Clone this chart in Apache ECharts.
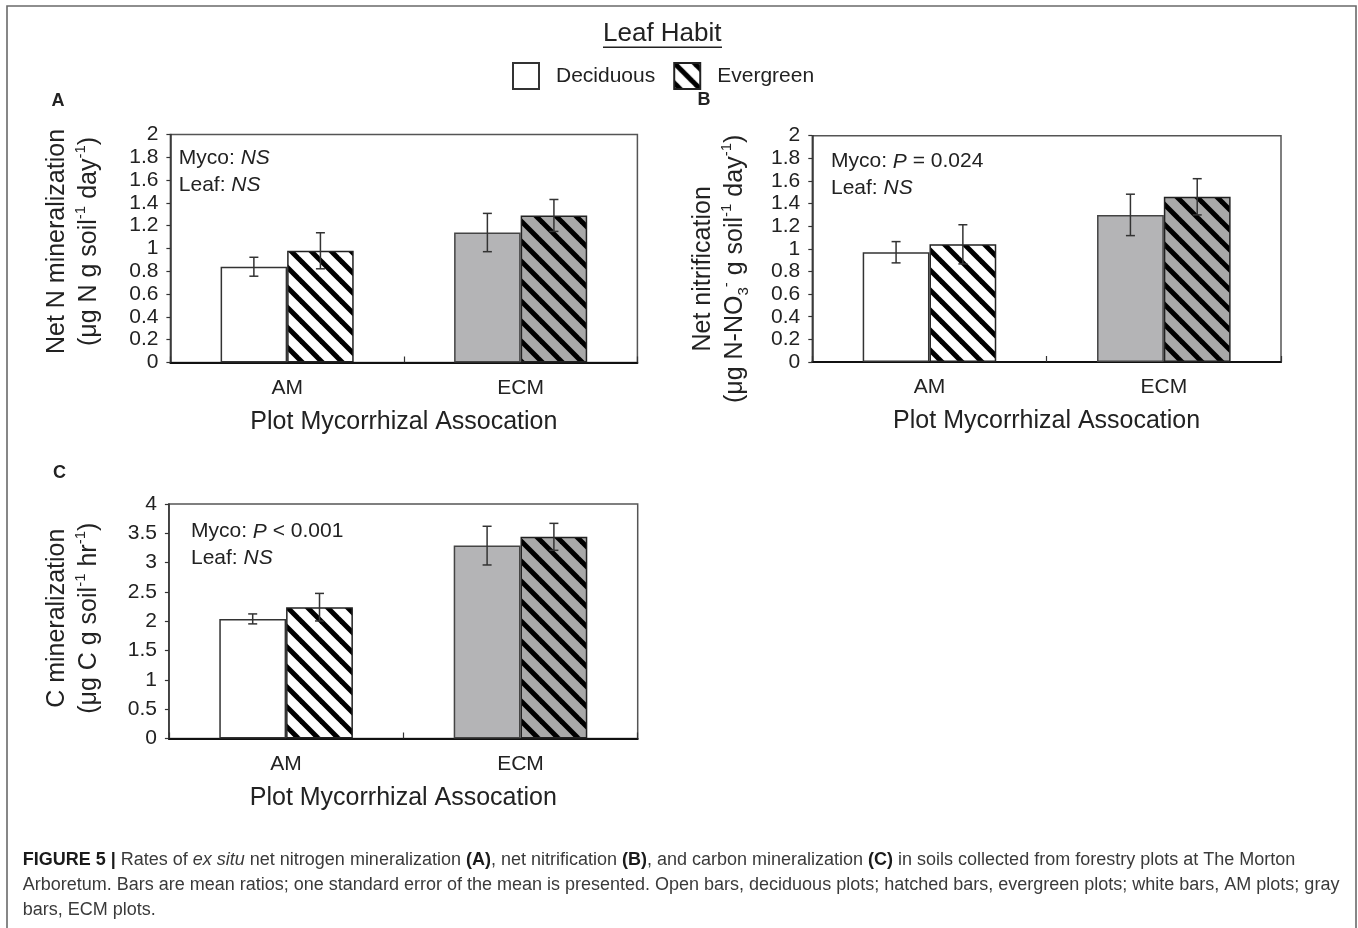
<!DOCTYPE html>
<html><head><meta charset="utf-8">
<script src="https://cdn.jsdelivr.net/npm/echarts@6/dist/echarts.min.js"></script>
<style>html,body{margin:0;padding:0;background:#fff}#c{width:1358px;height:928px}</style>
</head><body><div id="c"></div>
<script>
// ---------- DATA ----------
const categories = ['AM', 'ECM'];
const seriesNames = ['Deciduous', 'Evergreen'];
// Panel A: Net N mineralization
const aDecMean = [0.84, 1.14];
const aDecSE   = [0.083, 0.168];
const aEvgMean = [0.98, 1.29];
const aEvgSE   = [0.158, 0.14];
// Panel B: Net nitrification
const bDecMean = [0.97, 1.30];
const bDecSE   = [0.094, 0.183];
const bEvgMean = [1.04, 1.46];
const bEvgSE   = [0.173, 0.16];
// Panel C: C mineralization
const cDecMean = [2.04, 3.29];
const cDecSE   = [0.085, 0.33];
const cEvgMean = [2.24, 3.44];
const cEvgSE   = [0.235, 0.23];
// Axis ranges (tick labels generated from these)
const yRangeA = {min: 0, max: 2, interval: 0.2};
const yRangeB = {min: 0, max: 2, interval: 0.2};
const yRangeC = {min: 0, max: 4, interval: 0.5};

// ---------- STYLE ----------
const FF = "'Liberation Sans', Arial, sans-serif";
const TXT = '#222';
function hatch(bg) {
  const c = document.createElement('canvas'); c.width = 20; c.height = 20;
  const g = c.getContext('2d');
  g.fillStyle = bg; g.fillRect(0, 0, 20, 20);
  g.strokeStyle = '#000'; g.lineWidth = 5;
  for (const k of [-20, 0, 20]) { g.beginPath(); g.moveTo(k - 5, -5); g.lineTo(k + 25, 25); g.stroke(); }
  return {image: c, repeat: 'repeat'};
}
const hatchWhite = hatch('#ffffff');
const hatchGray = hatch('#a9a9a9');
const grayFill = '#b4b4b6';

const BARW = 0.285;
function errRender(sign) {
  return function (params, api) {
    const x = api.value(0), m = api.value(1), s = api.value(2);
    const band = api.size([1, 0])[0];
    const cx = api.coord([x, m])[0] + sign * band * BARW / 2;
    const yT = api.coord([x, m + s])[1];
    const yB = api.coord([x, m - s])[1];
    const hw = 4.5;
    const st = {stroke: '#333', lineWidth: 1.5};
    return {type: 'group', children: [
      {type: 'line', shape: {x1: cx, y1: yT, x2: cx, y2: yB}, style: st},
      {type: 'line', shape: {x1: cx - hw, y1: yT, x2: cx + hw, y2: yT}, style: st},
      {type: 'line', shape: {x1: cx - hw, y1: yB, x2: cx + hw, y2: yB}, style: st}
    ]};
  };
}

const grids = [
  {left: 170.4, top: 134.5, width: 467, height: 228},
  {left: 812.3, top: 135.7, width: 468.7, height: 226.3},
  {left: 168.9, top: 504, width: 468.8, height: 234.5}
].map(g => Object.assign(g, {show: true, borderColor: '#555', borderWidth: 1.5, backgroundColor: 'transparent', containLabel: false, outerBoundsMode: 'none'}));

const nameRich = {
  t: {fontSize: 25, lineHeight: 32, color: TXT, fontFamily: FF},
  sup: {fontSize: 15, lineHeight: 20, verticalAlign: 'top', color: TXT, fontFamily: FF},
  sub: {fontSize: 15, lineHeight: 20, verticalAlign: 'bottom', color: TXT, fontFamily: FF}
};
const yNames = [
  '{t|Net N mineralization}\n{t|(μg N g soil}{sup|-1}{t| day}{sup|-1}{t|)}',
  '{t|Net nitrification}\n{t|(μg N-NO}{sub|3}{sup|-}{t| g soil}{sup|-1}{t| day}{sup|-1}{t|)}',
  '{t|C mineralization}\n{t|(μg C g soil}{sup|-1}{t| hr}{sup|-1}{t|)}'
];
const yNameGap = [65, 61, 64];
const yNamePad = [[0, 0, 0, 14], [0, 40, 0, 0], [0, 0, 0, 6]];
const yRanges = [yRangeA, yRangeB, yRangeC];

const xAxes = [0, 1, 2].map(i => ({
  type: 'category', gridIndex: i, data: categories,
  axisLine: {lineStyle: {color: '#111', width: 2}},
  axisTick: {show: true, inside: true, length: 6, alignWithLabel: false, interval: 0, lineStyle: {color: '#333', width: 1.2}},
  axisLabel: {fontSize: 21, color: TXT, margin: 15, fontFamily: FF},
  splitLine: {show: false},
  name: 'Plot Mycorrhizal Assocation', nameLocation: 'middle', nameGap: 47,
  nameTextStyle: {fontSize: 25, color: TXT, fontFamily: FF}
}));
const yAxes = [0, 1, 2].map(i => ({
  type: 'value', gridIndex: i, min: yRanges[i].min, max: yRanges[i].max, interval: yRanges[i].interval,
  axisLine: {show: true, lineStyle: {color: '#333', width: 1.5}},
  axisTick: {show: true, inside: false, length: 4, lineStyle: {color: '#333', width: 1.2}},
  axisLabel: {fontSize: 21, color: TXT, margin: 12, fontFamily: FF},
  splitLine: {show: false},
  name: yNames[i], nameLocation: 'middle', nameRotate: 90, nameGap: yNameGap[i],
  nameTextStyle: {fontSize: 25, lineHeight: 32, color: TXT, fontFamily: FF, rich: nameRich, padding: yNamePad[i], align: 'center'}
}));

const panels = [
  [aDecMean, aDecSE, aEvgMean, aEvgSE],
  [bDecMean, bDecSE, bEvgMean, bEvgSE],
  [cDecMean, cDecSE, cEvgMean, cEvgSE]
];
const series = [];
panels.forEach((p, i) => {
  const [dm, ds, em, es] = p;
  series.push({
    name: seriesNames[0], type: 'bar', xAxisIndex: i, yAxisIndex: i,
    barWidth: (BARW * 100) + '%', barGap: '0%',
    itemStyle: {color: '#ffffff', borderColor: '#333', borderWidth: 1.5},
    data: dm.map((v, j) => j === 1 ? {value: v, itemStyle: {color: grayFill, borderColor: '#444'}} : {value: v}),
    z: 2
  });
  series.push({
    name: seriesNames[1], type: 'bar', xAxisIndex: i, yAxisIndex: i,
    barWidth: (BARW * 100) + '%', barGap: '0%',
    itemStyle: {color: hatchWhite, borderColor: '#222', borderWidth: 1.5},
    data: em.map((v, j) => j === 1 ? {value: v, itemStyle: {color: hatchGray}} : {value: v}),
    z: 2
  });
  series.push({
    name: 'err-d-' + i, type: 'custom', xAxisIndex: i, yAxisIndex: i,
    renderItem: errRender(-1), encode: {x: 0, y: 1},
    data: dm.map((v, j) => [j, v, ds[j]]), z: 5, silent: true
  });
  series.push({
    name: 'err-e-' + i, type: 'custom', xAxisIndex: i, yAxisIndex: i,
    renderItem: errRender(1), encode: {x: 0, y: 1},
    data: em.map((v, j) => [j, v, es[j]]), z: 5, silent: true
  });
});

function txt(x, y, text, size, opts) {
  opts = opts || {};
  const base = {fontSize: size, fill: opts.fill || TXT, fontFamily: FF, fontWeight: opts.weight || 'normal'};
  return {
    type: 'text', x: x, y: y, silent: true,
    style: Object.assign({
      text: text, align: opts.align || 'left', verticalAlign: 'middle',
      rich: {
        n: Object.assign({}, base),
        i: Object.assign({}, base, {fontStyle: 'italic'}),
        b: Object.assign({}, base, {fontWeight: 'bold', fill: opts.bfill || base.fill})
      }
    }, base)
  };
}

const capSize = 18, capFill = '#3a3a3a';
const graphics = [
  {type: 'rect', silent: true, shape: {x: 7, y: 6, width: 1349, height: 1000}, style: {fill: 'none', stroke: '#6a6a6a', lineWidth: 1.6}},
  {type: 'line', silent: true, shape: {x1: 603, y1: 47.3, x2: 722, y2: 47.3}, style: {stroke: '#222', lineWidth: 1.5}},
  txt(58, 101, 'A', 18, {weight: 'bold', align: 'center'}),
  txt(704, 100, 'B', 18, {weight: 'bold', align: 'center'}),
  txt(59.6, 473, 'C', 18, {weight: 'bold', align: 'center'}),
  txt(178.8, 158.3, 'Myco: {i|NS}', 21),
  txt(178.8, 185, 'Leaf: {i|NS}', 21),
  txt(831, 161.7, 'Myco: {i|P} = 0.024', 21),
  txt(831, 188.3, 'Leaf: {i|NS}', 21),
  txt(191, 531.7, 'Myco: {i|P} < 0.001', 21),
  txt(191, 558.3, 'Leaf: {i|NS}', 21),
  txt(22.7, 860, '{b|FIGURE 5 |} Rates of {i|ex situ} net nitrogen mineralization {b|(A)}, net nitrification {b|(B)}, and carbon mineralization {b|(C)} in soils collected from forestry plots at The Morton', capSize, {fill: capFill, bfill: '#1a1a1a'}),
  txt(22.7, 885, 'Arboretum. Bars are mean ratios; one standard error of the mean is presented. Open bars, deciduous plots; hatched bars, evergreen plots; white bars, AM plots; gray', capSize, {fill: capFill}),
  txt(22.7, 910, 'bars, ECM plots.', capSize, {fill: capFill})
];

const chart = echarts.init(document.getElementById('c'), null, {renderer: 'canvas'});
chart.setOption({
  animation: false,
  backgroundColor: '#ffffff',
  textStyle: {fontFamily: FF},
  title: {text: 'Leaf Habit', left: 603, top: 21, padding: 0, textStyle: {fontSize: 26, fontWeight: 'normal', color: TXT, fontFamily: FF}},
  legend: {
    data: seriesNames, left: 512, top: 62, padding: 0, orient: 'horizontal',
    itemWidth: 26, itemHeight: 26, itemGap: 18, icon: 'rect', selectedMode: false,
    textStyle: {fontSize: 21, color: TXT, fontFamily: FF, padding: [0, 0, 0, 12]}
  },
  grid: grids,
  xAxis: xAxes,
  yAxis: yAxes,
  series: series,
  graphic: graphics
});
</script>
</body></html>
